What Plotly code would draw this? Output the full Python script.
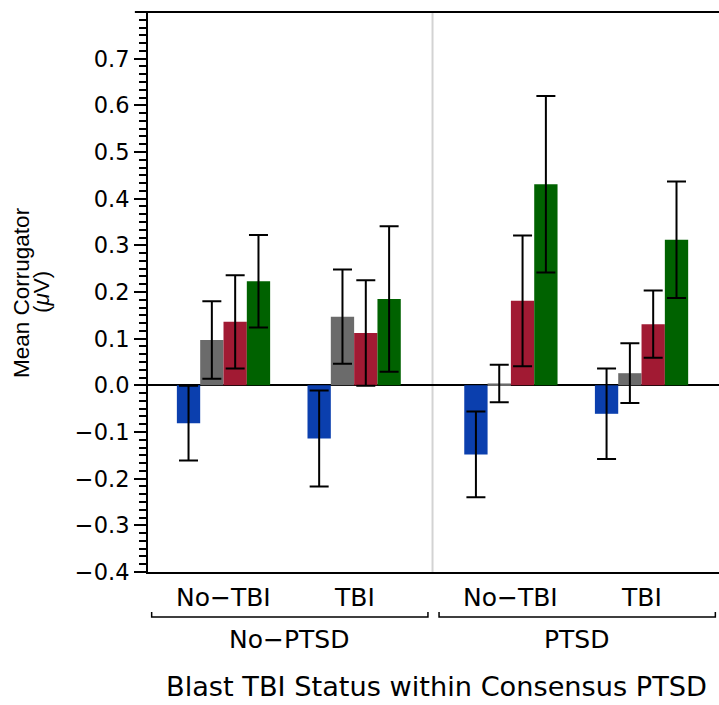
import plotly.graph_objects as go

# ---- data ----
ptsd_groups = ["No−PTSD", "No−PTSD", "PTSD", "PTSD"]
tbi_status = ["No−TBI", "TBI", "No−TBI", "TBI"]

series_names = ["Condition 1", "Condition 2", "Condition 3", "Condition 4"]
series_colors = ["#0B3FAE", "#6B6B6B", "#A11A33", "#006200"]

blue_mean = [-0.081, -0.114, -0.148, -0.061]
blue_err = [0.080, 0.103, 0.092, 0.097]
gray_mean = [0.097, 0.147, 0.004, 0.026]
gray_err = [0.083, 0.101, 0.040, 0.064]
red_mean = [0.136, 0.112, 0.181, 0.131]
red_err = [0.100, 0.113, 0.140, 0.072]
green_mean = [0.223, 0.185, 0.431, 0.312]
green_err = [0.099, 0.156, 0.189, 0.125]

y_ticks = [-0.4, -0.3, -0.2, -0.1, 0.0, 0.1, 0.2, 0.3, 0.4, 0.5, 0.6, 0.7]
y_range = [-0.4, 0.8]

x_title = "Blast TBI Status within Consensus PTSD"
y_title_lines = ["Mean Corrugator", "(<i>μ</i>V)"]

# ---- positions (category index + gap between PTSD groups) ----
group_gap = 0.2
unique_groups = list(dict.fromkeys(ptsd_groups))
xpos = [i + unique_groups.index(g) * group_gap for i, g in enumerate(ptsd_groups)]

means = [blue_mean, gray_mean, red_mean, green_mean]
errs = [blue_err, gray_err, red_err, green_err]

fig = go.Figure()
for name, col, m, e in zip(series_names, series_colors, means, errs):
    fig.add_trace(go.Bar(
        x=xpos, y=m, name=name, marker=dict(color=col, line=dict(width=0)),
        error_y=dict(type="data", array=e, visible=True, color="black",
                     thickness=2, width=9.5),
        showlegend=False,
    ))

FONT = "DejaVu Sans"
x_lo = xpos[0] - 0.578
x_hi = xpos[-1] + 0.593

shapes = []
annotations = []

# separator between PTSD groups
for gi in range(1, len(unique_groups)):
    prev_last = max(x for x, g in zip(xpos, ptsd_groups) if g == unique_groups[gi - 1])
    cur_first = min(x for x, g in zip(xpos, ptsd_groups) if g == unique_groups[gi])
    sep = (prev_last + cur_first) / 2
    shapes.append(dict(type="line", xref="x", yref="paper", x0=sep, x1=sep, y0=0, y1=1,
                       line=dict(color="#D3D3D3", width=2), layer="below"))

# category labels
for x, lab in zip(xpos, tbi_status):
    annotations.append(dict(x=x, y=-0.045, xref="x", yref="paper", text=lab,
                            showarrow=False, xanchor="center", yanchor="middle",
                            font=dict(family=FONT, size=25, color="black")))

# group brackets and labels
by = -0.0804
for g in unique_groups:
    gx = [x for x, gg in zip(xpos, ptsd_groups) if gg == g]
    a, b = min(gx) - 0.55, max(gx) + 0.565
    shapes.append(dict(type="path", xref="x", yref="paper",
                       path=f"M {a} {by + 0.009} L {a} {by} L {b} {by} L {b} {by + 0.009}",
                       line=dict(color="black", width=1.5)))
    annotations.append(dict(x=(min(gx) + max(gx)) / 2, y=-0.121, xref="x", yref="paper",
                            text=g, showarrow=False, xanchor="center", yanchor="middle",
                            font=dict(family=FONT, size=25, color="black")))

# axis titles
annotations.append(dict(x=0.505, y=-0.205, xref="paper", yref="paper",
                        text=x_title, showarrow=False, xanchor="center", yanchor="middle",
                        font=dict(family=FONT, size=27.2, color="black")))
for xp, line in zip([-0.2225, -0.1874], y_title_lines):
    annotations.append(dict(x=xp, y=0.5, xref="paper", yref="paper", text=line,
                            showarrow=False, textangle=-90, xanchor="center", yanchor="middle",
                            font=dict(family="Liberation Sans", size=22.5, color="black")))

# top border line extending slightly left of the axis
shapes.append(dict(type="line", xref="paper", yref="paper", x0=-0.023, x1=1, y0=1, y1=1,
                   line=dict(color="black", width=2)))

fig.update_layout(
    width=719, height=705,
    margin=dict(l=148, r=0, t=12, b=133),
    plot_bgcolor="white", paper_bgcolor="white",
    barmode="group", bargap=0.286, bargroupgap=0,
    shapes=shapes, annotations=annotations,
    xaxis=dict(range=[x_lo, x_hi], showticklabels=False, ticks="", showgrid=False,
               zeroline=False, showline=True, linecolor="black", linewidth=2),
    yaxis=dict(range=y_range, tickmode="array", tickvals=y_ticks, tickformat=".1f",
               ticks="outside", ticklen=12, tickwidth=2, tickcolor="black",
               showgrid=False, zeroline=True, zerolinecolor="black", zerolinewidth=2,
               showline=True, linecolor="black", linewidth=2,
               tickfont=dict(family=FONT, size=22.5, color="black"),
               minor=dict(tickmode="linear", tick0=0, dtick=0.1 / 6, ticks="outside",
                          ticklen=7, tickwidth=1.5, tickcolor="black")),
)

fig.write_html("out.html")
